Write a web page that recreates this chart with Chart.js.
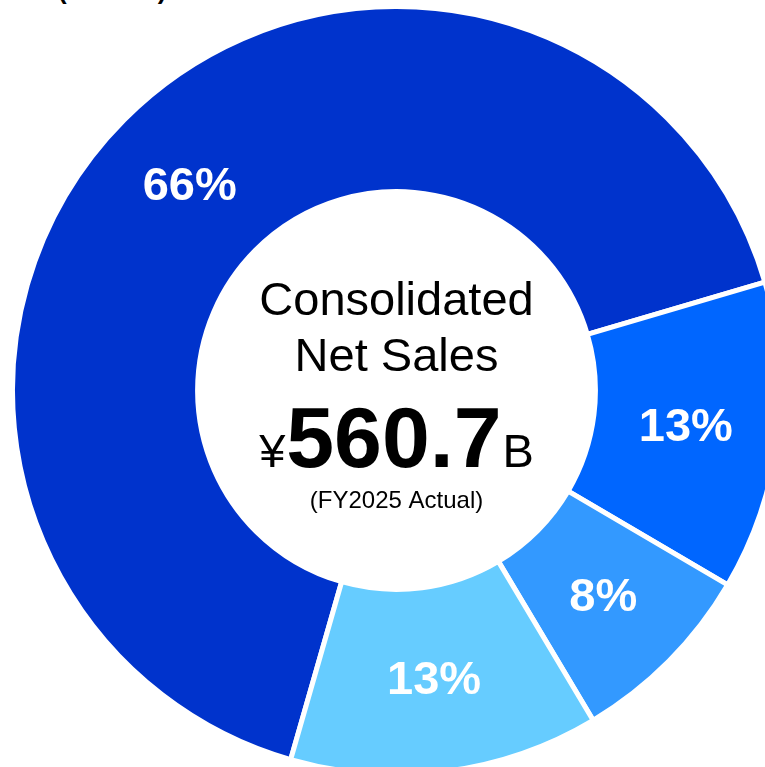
<!DOCTYPE html>
<html>
<head>
<meta charset="utf-8">
<script src="https://cdn.jsdelivr.net/npm/chart.js@4"></script>
<style>
  html, body { margin:0; padding:0; background:#fff; overflow:hidden; width:765px; height:767px; }
  #title { position:absolute; left:58px; top:-25px; font:bold 26px "Liberation Sans", Arial, sans-serif; color:#000; white-space:nowrap; }
  #wrap { position:absolute; left:9.5px; top:3.5px; width:773px; height:773px; }
</style>
</head>
<body>
<div id="title">(FY2025)</div>
<div id="wrap"><canvas id="salesChart"></canvas></div>
<script>
// segment shares of consolidated net sales
const segments = ['Segment A', 'Segment B', 'Segment C', 'Segment D'];
const shares = [66, 13, 8, 13];
const colors = ['#0033CC', '#0066FF', '#3399FF', '#66CCFF'];

const centerLines = ['Consolidated', 'Net Sales'];
const totalValue = '560.7';
const totalNote = '(FY2025 Actual)';

const FONT = '"Liberation Sans", Arial, sans-serif';

// percent labels on each slice + the total in the hole
const labelPlugin = {
  id: 'labels',
  afterDatasetsDraw(chart) {
    const ctx = chart.ctx;
    const arcs = chart.getDatasetMeta(0).data;
    ctx.save();
    ctx.fillStyle = '#fff';
    ctx.font = 'bold 47px ' + FONT;
    ctx.textAlign = 'center';
    ctx.textBaseline = 'middle';
    arcs.forEach((arc, i) => {
      const p = arc.tooltipPosition();
      ctx.fillText(shares[i] + '%', p.x, p.y + 2);
    });

    const cx = arcs[0].x, cy = arcs[0].y;
    ctx.fillStyle = '#000';
    ctx.textBaseline = 'alphabetic';
    ctx.font = '47px ' + FONT;
    ctx.fillText(centerLines[0], cx, cy - 76);
    ctx.fillText(centerLines[1], cx, cy - 20);

    // ¥ 560.7 B on one baseline
    ctx.textAlign = 'left';
    const small = '47px ' + FONT, big = 'bold 86px ' + FONT;
    ctx.font = small;
    const wY = ctx.measureText('¥').width;
    const wB = ctx.measureText('B').width;
    ctx.font = big;
    const wN = ctx.measureText(totalValue).width;
    const gap = 1;
    let x = cx - (wY + wN + wB + gap * 2) / 2;
    ctx.font = small;
    ctx.fillText('¥', x, cy + 76);
    x += wY + gap;
    ctx.font = big;
    ctx.fillText(totalValue, x, cy + 76);
    x += wN + gap;
    ctx.font = small;
    ctx.fillText('B', x, cy + 76);

    ctx.textAlign = 'center';
    ctx.font = '24px ' + FONT;
    ctx.fillText(totalNote, cx, cy + 117);
    ctx.restore();
  }
};

new Chart(document.getElementById('salesChart'), {
  type: 'doughnut',
  data: {
    labels: segments,
    datasets: [{
      data: shares,
      backgroundColor: colors,
      borderColor: '#fff',
      borderWidth: 5
    }]
  },
  options: {
    responsive: true,
    maintainAspectRatio: false,
    animation: false,
    cutout: '51.8%',
    rotation: 196,
    layout: { padding: 0 },
    plugins: { legend: { display: false }, tooltip: { enabled: false } }
  },
  plugins: [labelPlugin]
});
</script>
</body>
</html>
